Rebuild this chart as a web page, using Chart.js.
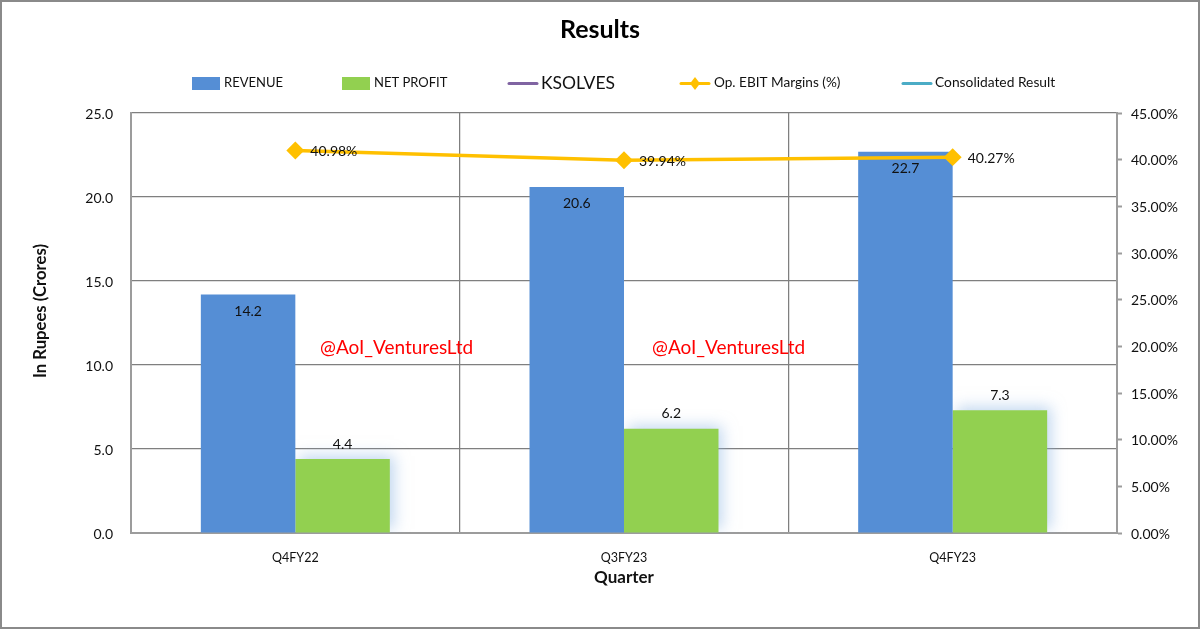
<!DOCTYPE html>
<html>
<head>
<meta charset="utf-8">
<title>Results</title>
<script src="https://cdn.jsdelivr.net/npm/chart.js@4"></script>
<style>
  html, body { margin: 0; padding: 0; background: #fff; }
  canvas { display: block; }
</style>
</head>
<body>
<canvas id="resultsChart" width="1200" height="629"></canvas>
<script>
const quarters = ['Q4FY22', 'Q3FY23', 'Q4FY23'];
const revenue = [14.2, 20.6, 22.7];
const netProfit = [4.4, 6.2, 7.3];
const ebitMargins = [40.98, 39.94, 40.27];
const ksolves = [null, null, null];
const consolidated = [null, null, null];

const fontName = 'Lato, "Open Sans", sans-serif';
const axisGrey = '#9c9c9c';
const gridGrey = '#7f7f7f';

// legend is drawn by hand because KSOLVES has a bigger font than the others
const legendRow = [
  { label: 'REVENUE', color: '#558ed5', type: 'box', x: 192, size: 13 },
  { label: 'NET PROFIT', color: '#92d050', type: 'box', x: 342, size: 13 },
  { label: 'KSOLVES', color: '#8064a2', type: 'line', x: 508, size: 17.5 },
  { label: 'Op. EBIT Margins (%)', color: '#ffc000', type: 'marker', x: 680, size: 13.6 },
  { label: 'Consolidated Result', color: '#4bacc6', type: 'line', x: 902, size: 13.8 }
];

const watermarks = [
  { text: '@AoI_VenturesLtd', x: 320, y: 348 },
  { text: '@AoI_VenturesLtd', x: 652, y: 348 }
];

const extras = {
  id: 'extras',
  beforeDraw(c) {
    const ctx = c.ctx;
    ctx.save();
    ctx.fillStyle = '#fff';
    ctx.fillRect(0, 0, c.width, c.height);
    ctx.strokeStyle = '#8a8a8a';
    ctx.lineWidth = 2;
    ctx.strokeRect(1, 1, 1198, 627);
    ctx.restore();
  },
  beforeDatasetDraw(c, args) {
    // soft blue glow behind the green bars
    if (args.index === 1) {
      c.ctx.save();
      c.ctx.shadowColor = 'rgba(141,180,226,0.55)';
      c.ctx.shadowBlur = 14;
      c.ctx.shadowOffsetX = 4;
      c.ctx.shadowOffsetY = -3;
    }
  },
  afterDatasetDraw(c, args) {
    if (args.index === 1) c.ctx.restore();
  },
  afterDraw(c) {
    const ctx = c.ctx;
    ctx.save();
    ctx.textBaseline = 'middle';

    // bar and line value labels
    ctx.fillStyle = '#111';
    ctx.font = '14px ' + fontName;
    ctx.textAlign = 'center';
    c.getDatasetMeta(0).data.forEach((bar, i) => {
      ctx.fillText(revenue[i].toFixed(1), bar.x, bar.y + 17);
    });
    c.getDatasetMeta(1).data.forEach((bar, i) => {
      ctx.fillText(netProfit[i].toFixed(1), bar.x, bar.y - 15);
    });
    ctx.textAlign = 'left';
    c.getDatasetMeta(2).data.forEach((pt, i) => {
      ctx.fillText(ebitMargins[i].toFixed(2) + '%', pt.x + 15, pt.y + 1);
    });

    // left axis title
    ctx.save();
    ctx.translate(41, 311);
    ctx.rotate(-Math.PI / 2);
    ctx.textAlign = 'center';
    ctx.font = 'bold 16.7px ' + fontName;
    ctx.fillStyle = '#111';
    ctx.fillText('In Rupees (Crores)', 0, 0);
    ctx.restore();

    // watermarks
    ctx.textAlign = 'left';
    ctx.fillStyle = '#ff0000';
    ctx.font = '19px ' + fontName;
    watermarks.forEach(w => ctx.fillText(w.text, w.x, w.y));

    // legend
    legendRow.forEach(item => {
      if (item.type === 'box') {
        ctx.fillStyle = item.color;
        ctx.fillRect(item.x, 77, 28, 13);
      } else {
        ctx.strokeStyle = item.color;
        ctx.lineWidth = 3;
        ctx.lineCap = 'round';
        ctx.beginPath();
        ctx.moveTo(item.x + 1, 83.5);
        ctx.lineTo(item.x + 29, 83.5);
        ctx.stroke();
        if (item.type === 'marker') {
          ctx.fillStyle = item.color;
          ctx.beginPath();
          ctx.moveTo(item.x + 15, 77);
          ctx.lineTo(item.x + 20, 83.5);
          ctx.lineTo(item.x + 15, 90);
          ctx.lineTo(item.x + 10, 83.5);
          ctx.closePath();
          ctx.fill();
        }
      }
      ctx.fillStyle = '#111';
      ctx.font = item.size + 'px ' + fontName;
      ctx.fillText(item.label, item.x + (item.type === 'box' ? 32 : item.type === 'marker' ? 34 : 33), 83);
    });
    ctx.restore();
  }
};

new Chart(document.getElementById('resultsChart').getContext('2d'), {
  type: 'bar',
  plugins: [extras],
  data: {
    labels: quarters,
    datasets: [
      { label: 'REVENUE', data: revenue, backgroundColor: '#558ed5', order: 1, categoryPercentage: 0.575, barPercentage: 1 },
      { label: 'NET PROFIT', data: netProfit, backgroundColor: '#92d050', order: 2, categoryPercentage: 0.575, barPercentage: 1 },
      {
        label: 'Op. EBIT Margins (%)', data: ebitMargins, type: 'line', yAxisID: 'y2', order: 0,
        borderColor: '#ffc000', backgroundColor: '#ffc000', borderWidth: 3.5,
        pointStyle: 'rectRot', pointRadius: 6.5, tension: 0
      },
      { label: 'KSOLVES', data: ksolves, type: 'line', order: 0, borderColor: '#8064a2' },
      { label: 'Consolidated Result', data: consolidated, type: 'line', order: 0, borderColor: '#4bacc6' }
    ]
  },
  options: {
    responsive: false,
    animation: false,
    devicePixelRatio: 1,
    font: { family: fontName },
    layout: { padding: 0 },
    plugins: {
      legend: { display: false },
      tooltip: { enabled: false },
      title: {
        display: true,
        text: 'Results',
        color: '#000',
        font: { family: fontName, size: 25, weight: 'bold', lineHeight: 1.2 },
        padding: { top: 15, bottom: 68 }
      }
    },
    scales: {
      x: {
        offset: true,
        border: { color: axisGrey, width: 2 },
        grid: { color: gridGrey, lineWidth: 1.25, drawTicks: false, offset: true },
        ticks: { color: '#111', padding: 17, maxRotation: 0, font: { family: fontName, size: 12.5 } },
        title: {
          display: true, text: 'Quarter', color: '#111',
          font: { family: fontName, size: 17, weight: 'bold' },
          padding: { top: 0, bottom: 41 }
        },
        afterFit(s) { s.height = 96; }
      },
      y: {
        min: 0, max: 25,
        position: 'left',
        border: { color: axisGrey, width: 2 },
        grid: { color: gridGrey, lineWidth: 1.25, drawTicks: false },
        ticks: {
          stepSize: 5, padding: 18, color: '#111', labelOffset: 1,
          font: { family: fontName, size: 14 },
          callback: v => v.toFixed(1)
        },
        afterFit(s) { s.width = 131; }
      },
      y2: {
        min: 0, max: 45,
        position: 'right',
        border: { color: axisGrey, width: 2 },
        grid: { drawOnChartArea: false, color: axisGrey, tickLength: 5, tickWidth: 2 },
        ticks: {
          stepSize: 5, padding: 9, color: '#111', labelOffset: 1,
          font: { family: fontName, size: 14 },
          callback: v => v.toFixed(2) + '%'
        },
        afterFit(s) { s.width = 83; }
      }
    }
  }
});
</script>
</body>
</html>
